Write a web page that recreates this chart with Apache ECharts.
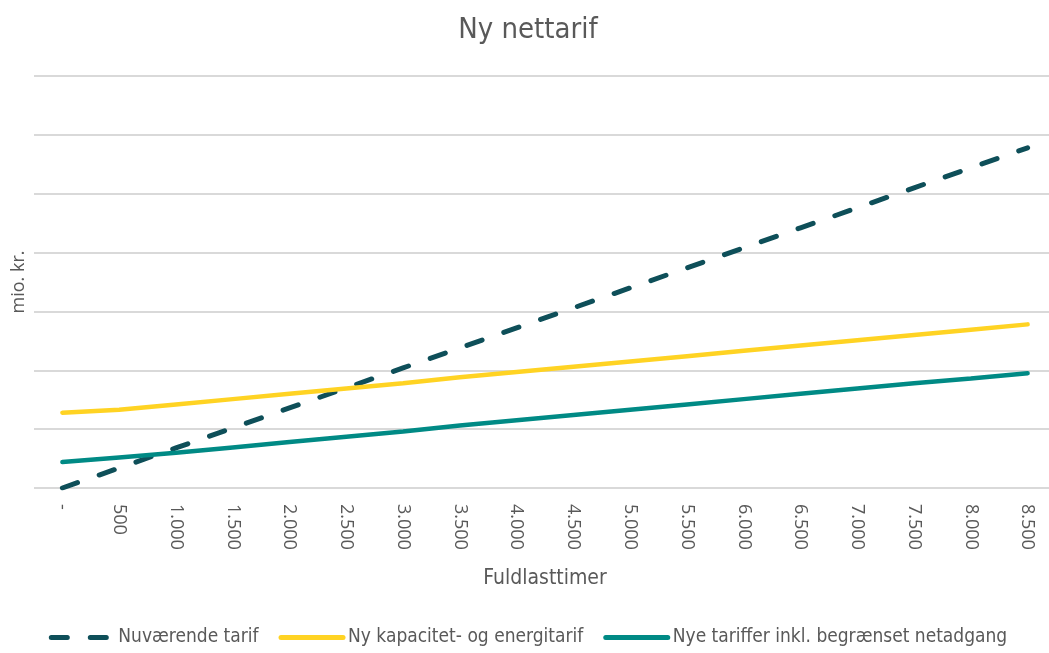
<!DOCTYPE html>
<html>
<head>
<meta charset="utf-8">
<script src="https://cdn.jsdelivr.net/npm/echarts@6/dist/echarts.min.js"></script>
<style>
  html, body { margin: 0; padding: 0; background: #fff; overflow: hidden; }
  #chart { width: 1056px; height: 653px; }
</style>
</head>
<body>
<div id="chart"></div>
<script>
// kategorier (fuldlasttimer)
const categories = ['-', '500', '1.000', '1.500', '2.000', '2.500', '3.000', '3.500', '4.000',
  '4.500', '5.000', '5.500', '6.000', '6.500', '7.000', '7.500', '8.000', '8.500']

// mio. kr. (aflæst, enhed = en gitterlinje)
const nuvaerende = [0, 0.34, 0.68, 1.02, 1.36, 1.70, 2.04, 2.38, 2.72, 3.06, 3.40, 3.74,
  4.08, 4.42, 4.76, 5.10, 5.44, 5.78]
const nyKapacitet = [1.28, 1.33, 1.42, 1.51, 1.60, 1.69, 1.78, 1.88, 1.97, 2.06, 2.15, 2.24,
  2.33, 2.42, 2.51, 2.60, 2.69, 2.78]
const nyeTariffer = [0.44, 0.52, 0.60, 0.69, 0.78, 0.87, 0.96, 1.06, 1.15, 1.24, 1.33, 1.42,
  1.51, 1.60, 1.69, 1.78, 1.86, 1.95]

const seriesNames = ['Nuværende tarif', 'Ny kapacitet- og energitarif', 'Nye tariffer inkl. begrænset netadgang']

const font = '"Liberation Sans Narrow", "DejaVu Sans Condensed", sans-serif'
const textColor = '#595959'

const chart = echarts.init(document.getElementById('chart'))

chart.setOption({
  animation: false,
  title: {
    text: 'Ny nettarif',
    left: 'center',
    top: 11,
    textStyle: { fontFamily: font, fontSize: 29, fontWeight: 'normal', color: textColor }
  },
  legend: {
    bottom: 1,
    left: 'center',
    itemWidth: 62,
    itemHeight: 5,
    itemGap: 20,
    itemStyle: { opacity: 0 },
    lineStyle: { width: 5, cap: 'round' },
    textStyle: { fontFamily: font, fontSize: 19, color: textColor },
    data: seriesNames
  },
  grid: { left: 34, top: 76, right: 0, bottom: 165 },
  xAxis: {
    type: 'category',
    data: categories,
    boundaryGap: true,
    axisLine: { show: false },
    axisTick: { show: false },
    axisLabel: { rotate: -90, margin: 16, fontFamily: '"Open Sans", sans-serif', fontSize: 18, color: textColor },
    name: 'Fuldlasttimer',
    nameLocation: 'middle',
    nameGap: 80,
    nameTextStyle: { fontFamily: font, fontSize: 21, color: textColor }
  },
  yAxis: {
    type: 'value',
    min: 0,
    max: 7,
    interval: 1,
    axisLabel: { show: false },
    axisLine: { show: false },
    axisTick: { show: false },
    splitLine: { lineStyle: { color: '#d9d9d9', width: 2 } },
    name: 'mio. kr.',
    nameLocation: 'middle',
    nameGap: 6,
    nameTextStyle: { fontFamily: '"Open Sans", sans-serif', fontSize: 18, color: textColor }
  },
  series: [
    {
      name: seriesNames[0],
      type: 'line',
      data: nuvaerende,
      showSymbol: false,
      symbol: 'none',
      lineStyle: { color: '#0e4f59', width: 5, type: [16, 23], cap: 'round' },
      itemStyle: { color: '#0e4f59' },
      z: 3
    },
    {
      name: seriesNames[1],
      type: 'line',
      data: nyKapacitet,
      showSymbol: false,
      symbol: 'none',
      lineStyle: { color: '#ffd323', width: 4.5, cap: 'round' },
      itemStyle: { color: '#ffd323' }
    },
    {
      name: seriesNames[2],
      type: 'line',
      data: nyeTariffer,
      showSymbol: false,
      symbol: 'none',
      lineStyle: { color: '#008a85', width: 4.5, cap: 'round' },
      itemStyle: { color: '#008a85' }
    }
  ]
})
</script>
</body>
</html>
